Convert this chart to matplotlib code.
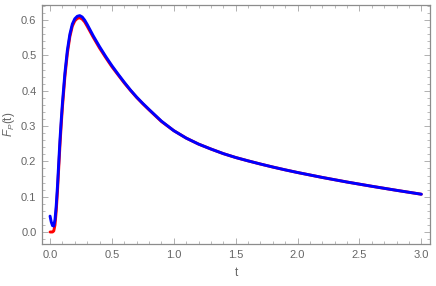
import numpy as np
import matplotlib
matplotlib.use("Agg")
import matplotlib.pyplot as plt
from matplotlib.ticker import MultipleLocator, FormatStrFormatter

# values
t = [0.0, 0.01, 0.02, 0.03, 0.04, 0.05, 0.06, 0.07, 0.08, 0.09, 0.10, 0.12,
     0.14, 0.16, 0.18, 0.20, 0.22, 0.24, 0.26, 0.28, 0.30, 0.35, 0.40, 0.45,
     0.50, 0.55, 0.60, 0.65, 0.70, 0.75, 0.80, 0.90, 1.00, 1.10, 1.20, 1.30,
     1.40, 1.50, 1.60, 1.70, 1.80, 1.90, 2.00, 2.20, 2.40, 2.60, 2.80, 3.00]
fp_red = [0.0, 0.0, 0.0, 0.003, 0.02, 0.06, 0.115, 0.18, 0.245, 0.302, 0.353, 0.44,
          0.506, 0.553, 0.583, 0.598, 0.605, 0.607, 0.603, 0.595, 0.583, 0.551, 0.521, 0.494,
          0.468, 0.445, 0.422, 0.401, 0.381, 0.363, 0.346, 0.313, 0.287, 0.266, 0.249, 0.235,
          0.222, 0.211, 0.2015, 0.1925, 0.184, 0.176, 0.1685, 0.1545, 0.1415, 0.1295, 0.118, 0.107]
fp_blue = [0.045, 0.028, 0.018, 0.017, 0.035, 0.075, 0.13, 0.195, 0.26, 0.315, 0.365, 0.45,
           0.515, 0.56, 0.589, 0.604, 0.611, 0.613, 0.609, 0.600, 0.588, 0.555, 0.525, 0.497,
           0.471, 0.447, 0.424, 0.402, 0.382, 0.364, 0.347, 0.314, 0.287, 0.266, 0.249, 0.235,
           0.222, 0.211, 0.2015, 0.1925, 0.184, 0.176, 0.1685, 0.1545, 0.1415, 0.1295, 0.118, 0.107]

plt.rcParams["font.family"] = ["Liberation Sans", "DejaVu Sans"]
plt.rcParams["mathtext.fontset"] = "custom"
plt.rcParams["mathtext.it"] = "Liberation Sans:italic"
plt.rcParams["mathtext.rm"] = "Liberation Sans"

fig = plt.figure(figsize=(4.36, 2.86), dpi=100)
ax = fig.add_axes([42 / 436, 42 / 286, 388 / 436, 239 / 286])

ax.plot(t, fp_red, color="#ff0000", lw=2.1, solid_capstyle="round")
ax.plot(t, fp_blue, color="#0000ff", lw=2.1, solid_capstyle="round")

ax.set_xlim(-0.065, 3.07)
ax.set_ylim(-0.034, 0.643)
ax.xaxis.set_major_locator(MultipleLocator(0.5))
ax.xaxis.set_minor_locator(MultipleLocator(0.1))
ax.yaxis.set_major_locator(MultipleLocator(0.1))
ax.yaxis.set_minor_locator(MultipleLocator(0.02))
ax.xaxis.set_major_formatter(FormatStrFormatter("%.1f"))
ax.yaxis.set_major_formatter(FormatStrFormatter("%.1f"))

gray = "#8c8c8c"
for s in ax.spines.values():
    s.set_color(gray)
    s.set_linewidth(0.9)
ax.tick_params(which="both", direction="in", top=True, right=True,
               color="#b0b0b0", labelcolor="#666666", labelsize=8)
ax.tick_params(which="major", length=4, width=0.7, pad=4)
ax.tick_params(which="minor", length=2, width=0.6)

ax.set_xlabel("t", color="#666666", fontsize=8.5, labelpad=5)
ax.set_ylabel(r"$F_P$(t)", color="#666666", fontsize=8.5, labelpad=3)

fig.savefig("out.png", dpi=100)
